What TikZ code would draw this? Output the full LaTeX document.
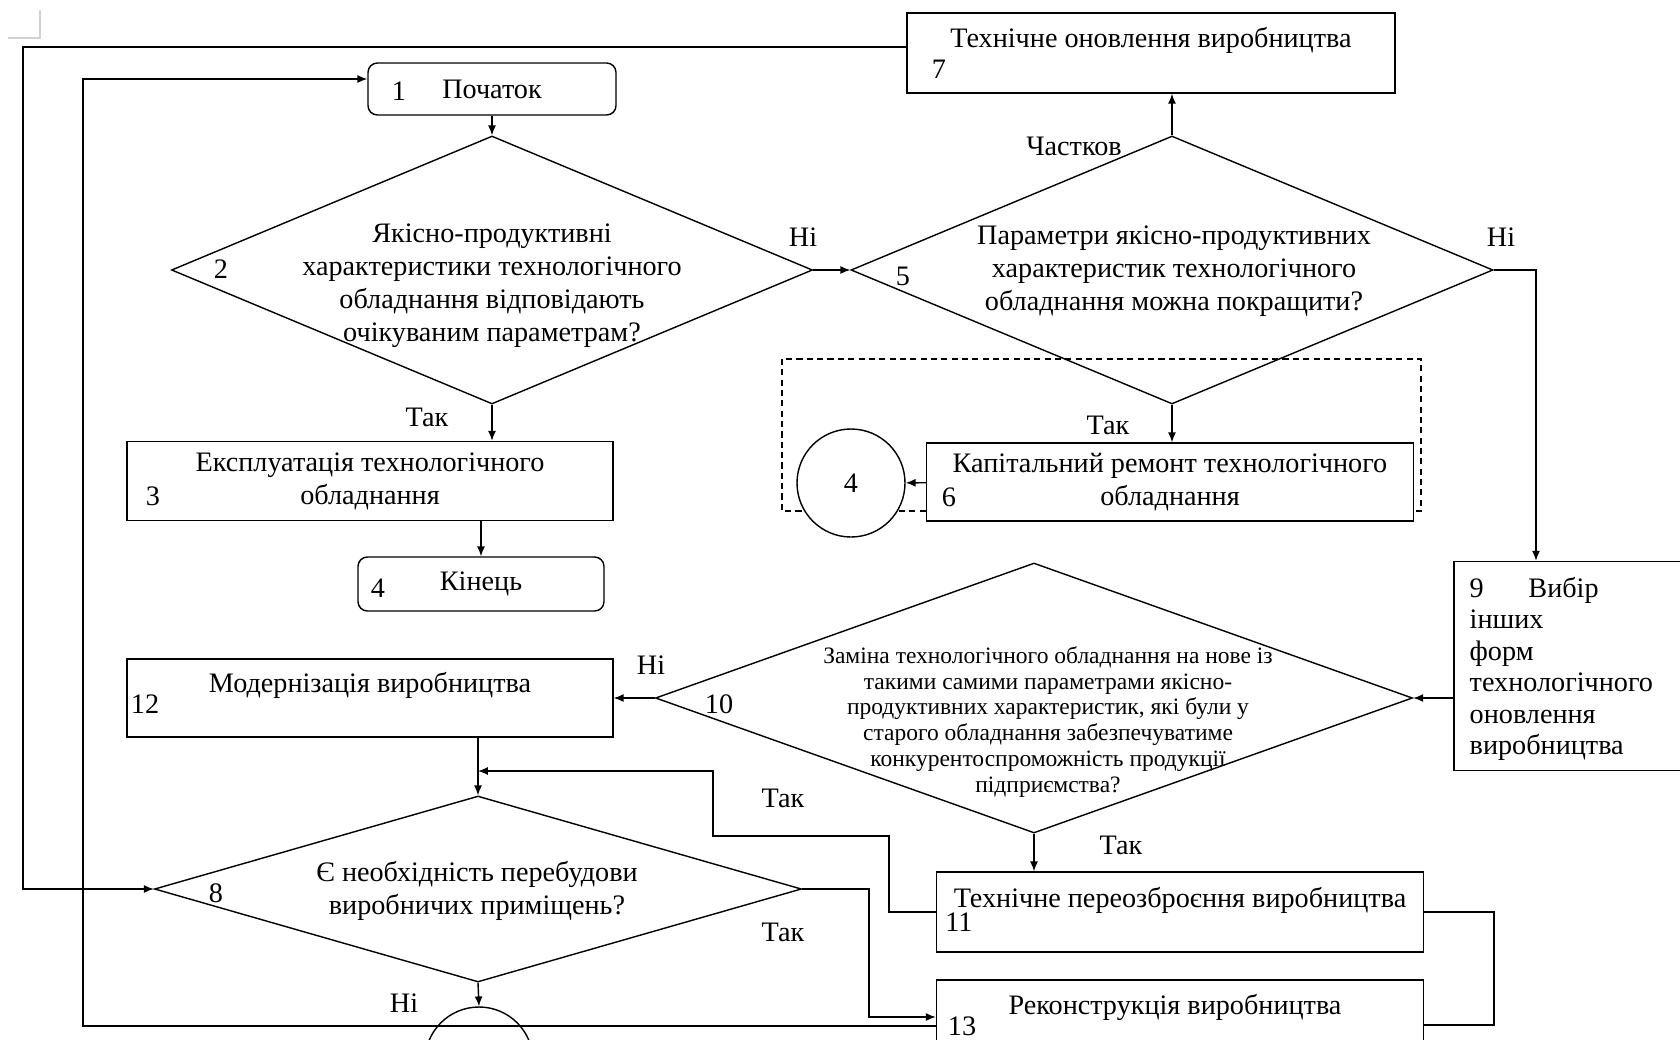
\documentclass[tikz,border=0pt]{standalone}
\usepackage{fontspec}
\setmainfont{Liberation Serif}
\usetikzlibrary{positioning,shapes.geometric,arrows.meta}
\newcommand{\pxu}{0.4255pt}

\begin{document}
\begin{tikzpicture}[x=\pxu,y=-\pxu,line width=0.6pt,
    font=\fontsize{12}{14}\selectfont,
    sz/.style 2 args={minimum width=#1*\pxu,minimum height=#2*\pxu}]
  \tikzstyle{box} = [draw, rectangle, fill=white, inner sep=0pt, align=center]
  \tikzstyle{term} = [box, rounded corners=4pt]
  \tikzstyle{dia} = [draw, diamond, inner sep=0pt]
  \tikzstyle{conn} = [draw, circle, inner sep=0pt, minimum size=108*\pxu]
  \tikzstyle{txt} = [inner sep=0pt, align=center]
  \tikzstyle{num} = [inner sep=0pt]
  \tikzstyle{arr} = [-{Latex[length=4.2pt,width=3.4pt]}]
  \useasboundingbox (0,0) rectangle (1680,1039);
  % page corner
  \draw[gray!35] (8,38) -- (40,38) -- (40,10);
  % dashed frame round 4 and 6
  \draw[dash pattern=on 2.6pt off 1.8pt] (782,359) rectangle (1421,511);
  % LEFT COLUMN
  \node[term, sz={248}{52}] (n1) at (492,89) {Початок};
  \node[num] (k1) at (399,91) {1};
  \node[dia, sz={641}{268}] (d2) at (492,270) {};
  \node[txt] (t2) at (492,286) {Якісно-продуктивні\\характеристики технологічного\\обладнання відповідають\\очікуваним параметрам?};
  \node[num] (k2) at (221,269) {2};
  \node[box, sz={486}{79}] (n3) at (370,481) {Експлуатація технологічного\\обладнання};
  \node[num] (k3) at (153,496) {3};
  \node[term, sz={246}{54}] (n4) at (481,584) {Кінець};
  \node[num] (k4) at (378,588) {4};
  \node[box, sz={486}{78}] (n12) at (370,698) {};
  \node[txt] (t12) at (370,685) {Модернізація виробництва};
  \node[num] (k12) at (145,704) {12};
  \node[dia, sz={647}{186}] (d8) at (478,889) {};
  \node[txt] (t8) at (477,891) {Є необхідність перебудови\\виробничих приміщень?};
  \node[num] (k8) at (216,893) {8};
  \node[conn] (c8) at (479,1061) {};
  % RIGHT COLUMN
  \node[box, sz={488}{80}] (n7) at (1151,53) {};
  \node[txt] (t7) at (1151,40) {Технічне оновлення виробництва};
  \node[num] (k7) at (939,69) {7};
  \node[dia, sz={642}{268}] (d5) at (1172,270) {};
  \node[txt] (t5) at (1174,271) {Параметри якісно-продуктивних\\характеристик технологічного\\обладнання можна покращити?};
  \node[num] (k5) at (903,276) {5};
  \node[box, sz={487}{78}] (n6) at (1170,482) {Капітальний ремонт технологічного\\обладнання};
  \node[num] (k6) at (949,497) {6};
  \node[conn, fill=white] (c4) at (851,483) {4};
  \node[box, sz={272}{209}] (n9) at (1590,666) {};
  \node[txt, align=left, anchor=west, font=\fontsize{12}{13.4}\selectfont] (t9) at (1469,669) {9\hspace{19pt}Вибір\\інших\\форм\\технологічного\\оновлення\\виробництва};
  \node[dia, sz={757}{270}] (d10) at (1034,698) {};
  \node[txt, font=\fontsize{10}{11}\selectfont] (t10) at (1048,722) {Заміна технологічного обладнання на нове із\\такими самими параметрами якісно-\\продуктивних характеристик, які були у\\старого обладнання забезпечуватиме\\конкурентоспроможність продукції\\підприємства?};
  \node[num] (k10) at (719,704) {10};
  \node[box, sz={487}{80}] (n11) at (1180,912) {};
  \node[txt] (t11) at (1180,900) {Технічне переозброєння виробництва};
  \node[num] (k11) at (959,922) {11};
  \node[box, sz={487}{80}] (n13) at (1180,1020) {};
  \node[txt] (t13) at (1175,1007) {Реконструкція виробництва};
  \node[num] (k13) at (962,1026) {13};
  % answers
  \node[txt] (a1) at (803,237) {Ні};
  \node[txt] (a2) at (427,417) {Так};
  \node[txt] (a3) at (1074,146) {Частков};
  \node[txt] (a4) at (1501,237) {Ні};
  \node[txt] (a5) at (1108,425) {Так};
  \node[txt] (a6) at (651,665) {Ні};
  \node[txt] (a7) at (1121,845) {Так};
  \node[txt] (a8) at (783,798) {Так};
  \node[txt] (a9) at (783,932) {Так};
  \node[txt] (a10) at (404,1003) {Ні};
  % connectors
  \draw[arr] (n1) -- (d2);
  \draw[arr] (d2) -- (d5);
  \draw[arr] (d2.south) -- (d2.south |- n3.north);
  \draw[arr] (n4.north |- n3.south) -- (n4.north);
  \draw[arr] (d5.north) -- (d5.north |- n7.south);
  \draw[arr] (d5.south) -- (d5.south |- n6.north);
  \draw[arr] (n6) -- (c4);
  \draw[arr] (d5.east) -| (1536,0 |- n9.north);
  \draw[arr] (d10.east -| n9.west) -- (d10.east);
  \draw[arr] (d10) -- (n12);
  \draw[arr] (d10.south) -- (d10.south |- n11.north);
  \draw[arr] (d8.north |- n12.south) -- (d8.north);
  \draw[arr] (n11.west) -| (889,836) -| (713,771) -- (d8.north |- 713,771);
  \draw[arr] (d8.east) -| (869,1017) -- (n13.west |- 869,1017);
  \draw[arr] (d8.south) -- (c8.north);
  \draw[arr] (n7.west |- 23,47) -| (23,889) -- (d8.west);
  \draw[arr] (n13.west |- 83,1026) -| (83,79) -- (n1.west |- 83,79);
  \draw (n11.east) -| (1494,1025) -- (n13.east |- 1494,1025);
\end{tikzpicture}
\end{document}
